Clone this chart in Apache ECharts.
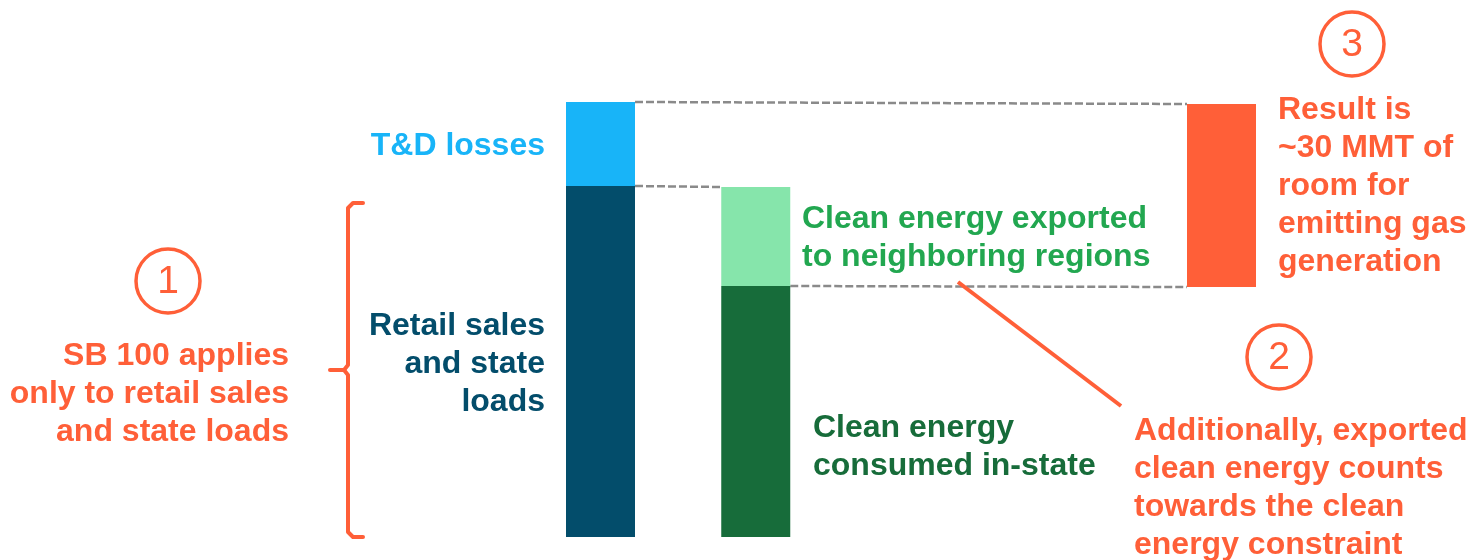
<!DOCTYPE html>
<html>
<head>
<meta charset="utf-8">
<script src="https://cdn.jsdelivr.net/npm/echarts@6/dist/echarts.min.js"></script>
<style>
html,body{margin:0;padding:0;background:#fff;}
#chart{width:1472px;height:560px;}
</style>
</head>
<body>
<div id="chart"></div>
<script>
// ---- data ----
var categories = ['Load', 'Clean energy', 'gap1', 'gap2', 'Result'];
var lowerValues = [351, 251, null, null, 250];   // retail sales / clean in-state / (invisible base for result)
var upperValues = [84, 99, null, null, 183];     // T&D losses / clean exported / room for gas

var lowerColors = ['#034d6b', '#176c3a', null, null, 'rgba(0,0,0,0)'];
var upperColors = ['#18b4f8', '#86e5ab', null, null, '#ff5f38'];

var ORANGE = '#ff5f38';
var FONT = '"Liberation Sans", Arial, sans-serif';
var BAR_W = 69;

var chart = echarts.init(document.getElementById('chart'), null, {renderer: 'canvas'});

function mk(vals, cols) {
  return vals.map(function (v, i) {
    return v == null ? null : {value: v, itemStyle: {color: cols[i]}};
  });
}

chart.setOption({
  animation: false,
  grid: {left: 522.875, width: 776.25, top: 37, bottom: 23},
  xAxis: {type: 'category', data: categories, show: false},
  yAxis: {type: 'value', min: 0, max: 500, show: false},
  series: [
    {type: 'bar', stack: 'a', barWidth: BAR_W, data: mk(lowerValues, lowerColors)},
    {type: 'bar', stack: 'a', barWidth: BAR_W, data: mk(upperValues, upperColors)}
  ]
});

function px(i, v) { return chart.convertToPixel({gridIndex: 0}, [i, v]); }
var half = BAR_W / 2;

var top0 = lowerValues[0] + upperValues[0];
var top1 = lowerValues[1] + upperValues[1];
var top4 = lowerValues[4] + upperValues[4];

function dashed(a, b) {
  return {type: 'line', silent: true,
    shape: {x1: a[0], y1: a[1], x2: b[0], y2: b[1]},
    style: {stroke: '#8a8a8a', lineWidth: 2.5, lineDash: [8, 3]}};
}
var p0top = px(0, top0), p4top = px(4, top4);
var p0mid = px(0, lowerValues[0]), p1top = px(1, top1);
var p1mid = px(1, lowerValues[1]), p4base = px(4, lowerValues[4]);

function txt(x, y, text, color, align) {
  return {type: 'text', x: x, y: y, silent: true,
    style: {text: text, fill: color, font: 'bold 32px ' + FONT,
      align: align || 'left', verticalAlign: 'middle', lineHeight: 38}};
}
function circ(cx, cy, n) {
  return [
    {type: 'circle', shape: {cx: cx, cy: cy, r: 32}, style: {fill: 'none', stroke: ORANGE, lineWidth: 3.5}},
    {type: 'text', x: cx, y: cy + 1, style: {text: n, fill: ORANGE, font: 'normal 39px ' + FONT, align: 'center', verticalAlign: 'middle'}}
  ];
}

var g = [
  dashed([p0top[0] + half, p0top[1]], [p4top[0] - half, p4top[1]]),
  dashed([p0mid[0] + half, p0mid[1]], [p1top[0] - half, p1top[1]]),
  dashed([p1mid[0] + half, p1mid[1]], [p4base[0] - half, p4base[1]]),
  txt(545, 146, 'T&D losses', '#18b4f8', 'right'),
  txt(545, 364, 'Retail sales\nand state\nloads', '#034d6b', 'right'),
  txt(289, 394, 'SB 100 applies\nonly to retail sales\nand state loads', ORANGE, 'right'),
  txt(802, 238, 'Clean energy exported\nto neighboring regions', '#22a750', 'left'),
  txt(813, 447, 'Clean energy\nconsumed in-state', '#176c3a', 'left'),
  txt(1278, 186, 'Result is\n~30 MMT of\nroom for\nemitting gas\ngeneration', ORANGE, 'left'),
  txt(1134, 488, 'Additionally, exported\nclean energy counts\ntowards the clean\nenergy constraint', ORANGE, 'left'),
  {type: 'line', shape: {x1: 958, y1: 282, x2: 1121, y2: 406}, style: {stroke: ORANGE, lineWidth: 4}},
  {type: 'polyline', shape: {points: [[363, 203], [353, 203], [348, 208], [348, 365], [344, 370], [330, 370]]},
    style: {stroke: ORANGE, lineWidth: 4, fill: null, lineJoin: 'round', lineCap: 'round'}},
  {type: 'polyline', shape: {points: [[344, 370], [348, 375], [348, 532], [353, 537], [363, 537]]},
    style: {stroke: ORANGE, lineWidth: 4, fill: null, lineJoin: 'round', lineCap: 'round'}}
];
g = g.concat(circ(168, 281, '1'), circ(1279, 357, '2'), circ(1352, 44, '3'));

chart.setOption({graphic: {elements: g}});
</script>
</body>
</html>
